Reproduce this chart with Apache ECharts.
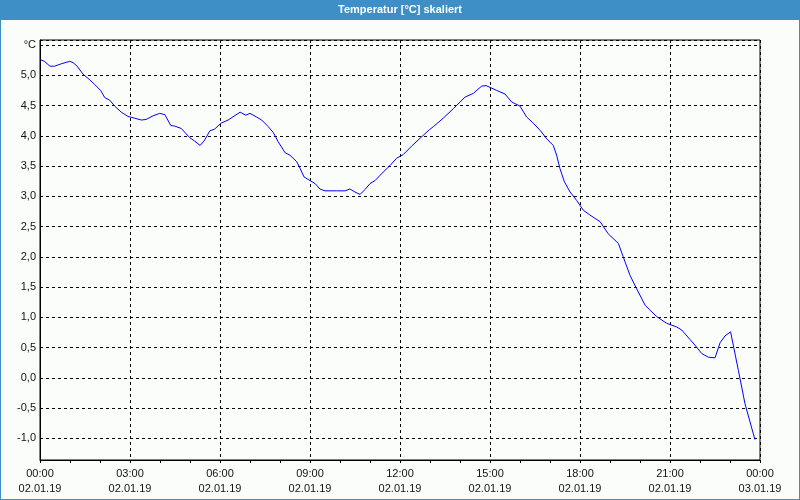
<!DOCTYPE html>
<html>
<head>
<meta charset="utf-8">
<script src="https://cdn.jsdelivr.net/npm/echarts@6/dist/echarts.min.js"></script>
<style>
html,body{margin:0;padding:0;background:#fbfdfb;}
#chart{width:800px;height:500px;}
</style>
</head>
<body>
<div id="chart"></div>
<script>
// Time of day in hours since 00:00 02.01.19
const timeHours = [0,0.15,0.33,0.49,0.71,0.99,1.1,1.24,1.43,1.6,1.82,2.02,2.16,2.32,2.49,2.71,2.93,3.16,3.38,3.54,3.77,3.99,4.16,4.36,4.49,4.71,4.99,5.16,5.34,5.49,5.66,5.82,6.04,6.27,6.67,6.86,7.0,7.22,7.39,7.61,7.78,7.94,8.17,8.33,8.56,8.67,8.8,9.0,9.17,9.33,9.5,9.89,10.17,10.33,10.5,10.67,10.83,11.0,11.17,11.44,11.67,11.89,12.11,12.39,12.67,12.98,13.11,13.44,13.78,14.17,14.44,14.72,14.87,15.22,15.5,15.72,16.0,16.22,16.44,16.67,16.89,17.11,17.22,17.33,17.48,17.67,17.89,18.11,18.33,18.67,18.94,19.28,19.44,19.67,19.89,20.17,20.33,20.56,20.89,21.22,21.39,21.67,21.83,22.06,22.28,22.5,22.67,22.83,23.02,23.28,23.5,23.83];
const temperature = [5.26,5.23,5.15,5.15,5.19,5.23,5.21,5.15,5.02,4.95,4.85,4.75,4.63,4.59,4.49,4.39,4.32,4.29,4.26,4.27,4.33,4.37,4.35,4.17,4.16,4.12,3.97,3.91,3.84,3.93,4.08,4.11,4.21,4.26,4.39,4.34,4.37,4.31,4.26,4.15,4.05,3.90,3.72,3.68,3.57,3.46,3.32,3.26,3.21,3.12,3.09,3.09,3.09,3.12,3.07,3.03,3.11,3.21,3.26,3.40,3.51,3.63,3.69,3.83,3.96,4.10,4.15,4.29,4.45,4.64,4.70,4.82,4.83,4.75,4.69,4.56,4.49,4.31,4.21,4.09,3.95,3.84,3.68,3.46,3.24,3.07,2.93,2.77,2.69,2.58,2.38,2.22,2.00,1.69,1.47,1.20,1.12,1.01,0.90,0.84,0.79,0.63,0.54,0.40,0.34,0.33,0.58,0.69,0.76,0.12,-0.43,-1.02];
const xTickLabels = ['00:00\n02.01.19','03:00\n02.01.19','06:00\n02.01.19','09:00\n02.01.19','12:00\n02.01.19','15:00\n02.01.19','18:00\n02.01.19','21:00\n02.01.19','00:00\n03.01.19'];
const titleText = 'Temperatur [°C] skaliert';
const unitLabel = '°C';

const seriesData = timeHours.map((h, i) => [h, temperature[i]]);
const FONT = 'Liberation Sans';
const chart = echarts.init(document.getElementById('chart'));
chart.setOption({
  backgroundColor: '#fbfdfb',
  animation: false,
  graphic: [
    {type:'rect', shape:{x:0,y:0,width:800,height:500}, style:{fill:'none', stroke:'#3d8fc6', lineWidth:2}, silent:true},
    {type:'rect', shape:{x:0,y:0,width:800,height:20}, style:{fill:'#3d8fc6'}, silent:true},
    {type:'text', x:400, y:10, style:{text:titleText, fill:'#ffffff', font:'bold 11px ' + FONT, align:'center', verticalAlign:'middle'}, silent:true}
  ],
  grid: {left:40, right:40, top:40, bottom:40, show:true, borderColor:'#000', borderWidth:1, backgroundColor:'transparent'},
  xAxis: {
    type:'value', min:0, max:24, interval:3,
    axisLine:{show:true, onZero:false, lineStyle:{color:'#000', width:1}},
    axisTick:{show:true, length:3, lineStyle:{color:'#000'}},
    minorTick:{show:true, splitNumber:3, length:3, lineStyle:{color:'#000'}},
    splitLine:{show:true, lineStyle:{color:'#000', type:[3,3], width:1}},
    axisLabel:{margin:6, color:'#111', fontFamily:FONT, fontSize:11, lineHeight:15,
      formatter: v => xTickLabels[Math.round(v/3)]}
  },
  yAxis: {
    type:'value', min:-1.359, max:5.583, minInterval:0.5, maxInterval:0.5, splitNumber:14,
    axisLine:{show:true, onZero:false, lineStyle:{color:'#000', width:1}},
    axisTick:{show:false},
    splitLine:{show:true, lineStyle:{color:'#000', type:[3,3], width:1}},
    axisLabel:{margin:4, color:'#111', fontFamily:FONT, fontSize:11, showMinLabel:false, showMaxLabel:false,
      formatter: v => {
        if (Math.abs(v - 5.5) < 1e-6) return unitLabel;
        if (Math.abs(v*2 - Math.round(v*2)) > 1e-6) return '';
        return v.toFixed(1).replace('.', ',');
      }}
  },
  series: [{
    type:'line', data:seriesData, showSymbol:false, symbol:'none',
    lineStyle:{color:'#0000ff', width:1}, smooth:false
  }]
});
</script>
</body>
</html>
